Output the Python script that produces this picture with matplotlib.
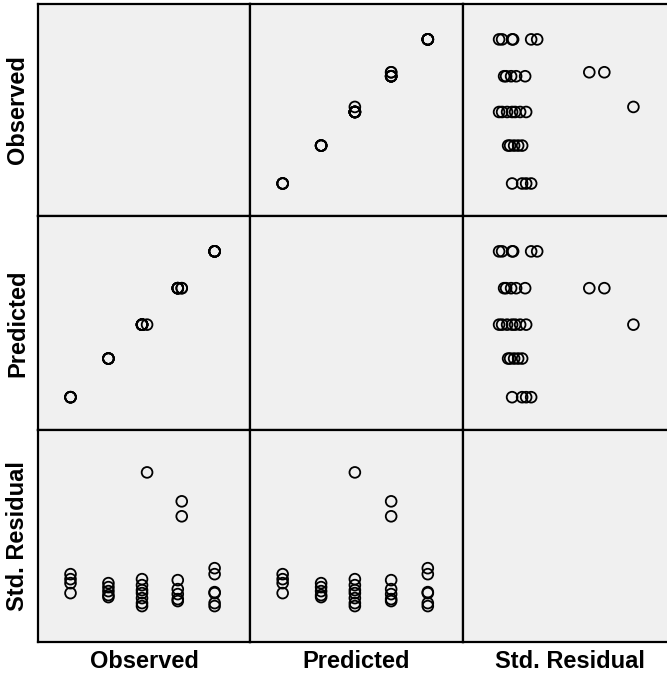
"""
Matriz de dispersão: Observed x Predicted x Std. Residual
(estilo SPSS, diagonal vazia, painéis com fundo cinza claro)
"""

import numpy as np
import matplotlib
matplotlib.use('Agg')
import matplotlib.pyplot as plt

plt.rcParams['font.family'] = ['Liberation Sans', 'DejaVu Sans']

# ── Dados (um valor por caso, agrupados pelas 5 células do modelo) ─────────────
observed = [1.00, 1.00, 1.00, 1.00,
            2.05, 2.05, 2.05, 2.05, 2.05,
            2.98, 2.98, 2.98, 2.98, 2.98, 2.98, 2.98, 3.12,
            3.97, 3.97, 3.97, 3.97, 3.97, 4.08, 4.08,
            4.99, 4.99, 4.99, 4.99, 4.99, 4.99]

predicted = [1.00, 1.00, 1.00, 1.00,
             2.06, 2.06, 2.06, 2.06, 2.06,
             2.99, 2.99, 2.99, 2.99, 2.99, 2.99, 2.99, 2.99,
             3.99, 3.99, 3.99, 3.99, 3.99, 3.99, 3.99,
             5.00, 5.00, 5.00, 5.00, 5.00, 5.00]

std_residual = [0.52, 0.32, 0.16, -0.24,
                0.16, 0.00, -0.16, -0.32, -0.40,
                0.32, 0.08, -0.12, -0.24, -0.44, -0.64, -0.76, 4.60,
                0.28, -0.08, -0.28, -0.48, -0.56, 3.44, 2.84,
                0.76, 0.52, -0.20, -0.24, -0.64, -0.76]

nomes = ['Observed', 'Predicted', 'Std. Residual']
variaveis = [np.array(observed), np.array(predicted), np.array(std_residual)]
limites = [(0.1, 5.97), (0.1, 5.97), (-2.2, 6.3)]

# ── Geometria da grade (em pixels da figura 667x677) ───────────────────────────
W, H = 667, 677
col_x = [38, 250, 463]
col_w = [212, 213, 213]
lin_y = [4, 216, 430]
lin_h = [212, 214, 212]

fig = plt.figure(figsize=(W / 100, H / 100), dpi=100)

for i in range(3):          # linha -> variável no eixo y
    for j in range(3):      # coluna -> variável no eixo x
        ax = fig.add_axes([col_x[j] / W, (H - lin_y[i] - lin_h[i]) / H,
                           col_w[j] / W, lin_h[i] / H])
        ax.set_facecolor('#f0f0f0')
        ax.set_xlim(limites[j]); ax.set_ylim(limites[i])
        ax.set_xticks([]); ax.set_yticks([])
        for s in ax.spines.values():
            s.set_linewidth(1.6); s.set_color('black')
        if i != j:
            ax.scatter(variaveis[j], variaveis[i], s=60, facecolors='none',
                       edgecolors='black', linewidths=1.3, zorder=3)

# ── Rótulos das variáveis ─────────────────────────────────────────────────────
for j in range(3):
    fig.text((col_x[j] + col_w[j] / 2) / W, 1 - 661 / H, nomes[j],
             ha='center', va='center', fontsize=17, fontweight='bold')
for i in range(3):
    fig.text(18 / W, 1 - (lin_y[i] + lin_h[i] / 2) / H, nomes[i],
             ha='center', va='center', rotation=90, fontsize=17, fontweight='bold')

fig.savefig('out.png', dpi=100)
